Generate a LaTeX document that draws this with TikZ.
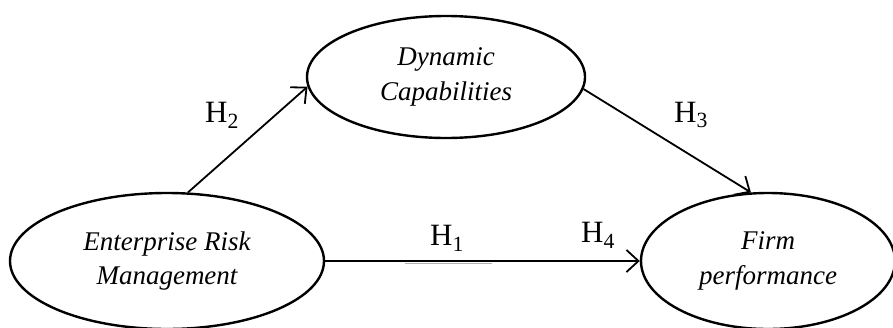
\documentclass[tikz,border=0pt]{standalone}
\usepackage{fontspec}
\setmainfont{Liberation Serif}
\usetikzlibrary{arrows.meta,shapes.geometric}
\begin{document}
\begin{tikzpicture}[x=1pt,y=-1pt,
  construct/.style={draw,line width=2.4pt,ellipse,inner sep=0pt,align=center,
    font=\fontsize{27}{35}\selectfont\itshape},
  path/.style={line width=1.8pt,-{Straight Barb[length=12pt,width=22pt,line width=1.8pt]}},
  hlabel/.style={font=\fontsize{31}{34}\selectfont,inner sep=0pt}]
\useasboundingbox (0,0) rectangle (893,327);
\node[construct,minimum width=314pt,minimum height=136pt] (erm) at (167,261) {Enterprise Risk\\Management};
\node[construct,minimum width=278pt,minimum height=122pt] (dc) at (446,77) {Dynamic\\Capabilities};
\node[construct,minimum width=254pt,minimum height=136pt] (fp) at (768,261) {Firm\\performance};
\draw[path] (erm.73) -- (dc.184);
\draw[path] (dc.-5) -- (fp.104);
\draw[path] (erm.east) -- (fp.west);
\coordinate (g1) at (405,263);
\coordinate (g2) at (492,263);
\draw[white,line width=2.4pt] (g1) -- (g2);
\draw[gray!60,line width=0.9pt] (g1) -- (g2);
\node[hlabel] (h2) at (222,115) {H\textsubscript{2}};
\node[hlabel] (h3) at (691,115) {H\textsubscript{3}};
\node[hlabel] (h1) at (447,238) {H\textsubscript{1}};
\node[hlabel] (h4) at (598,235) {H\textsubscript{4}};
\end{tikzpicture}
\end{document}
